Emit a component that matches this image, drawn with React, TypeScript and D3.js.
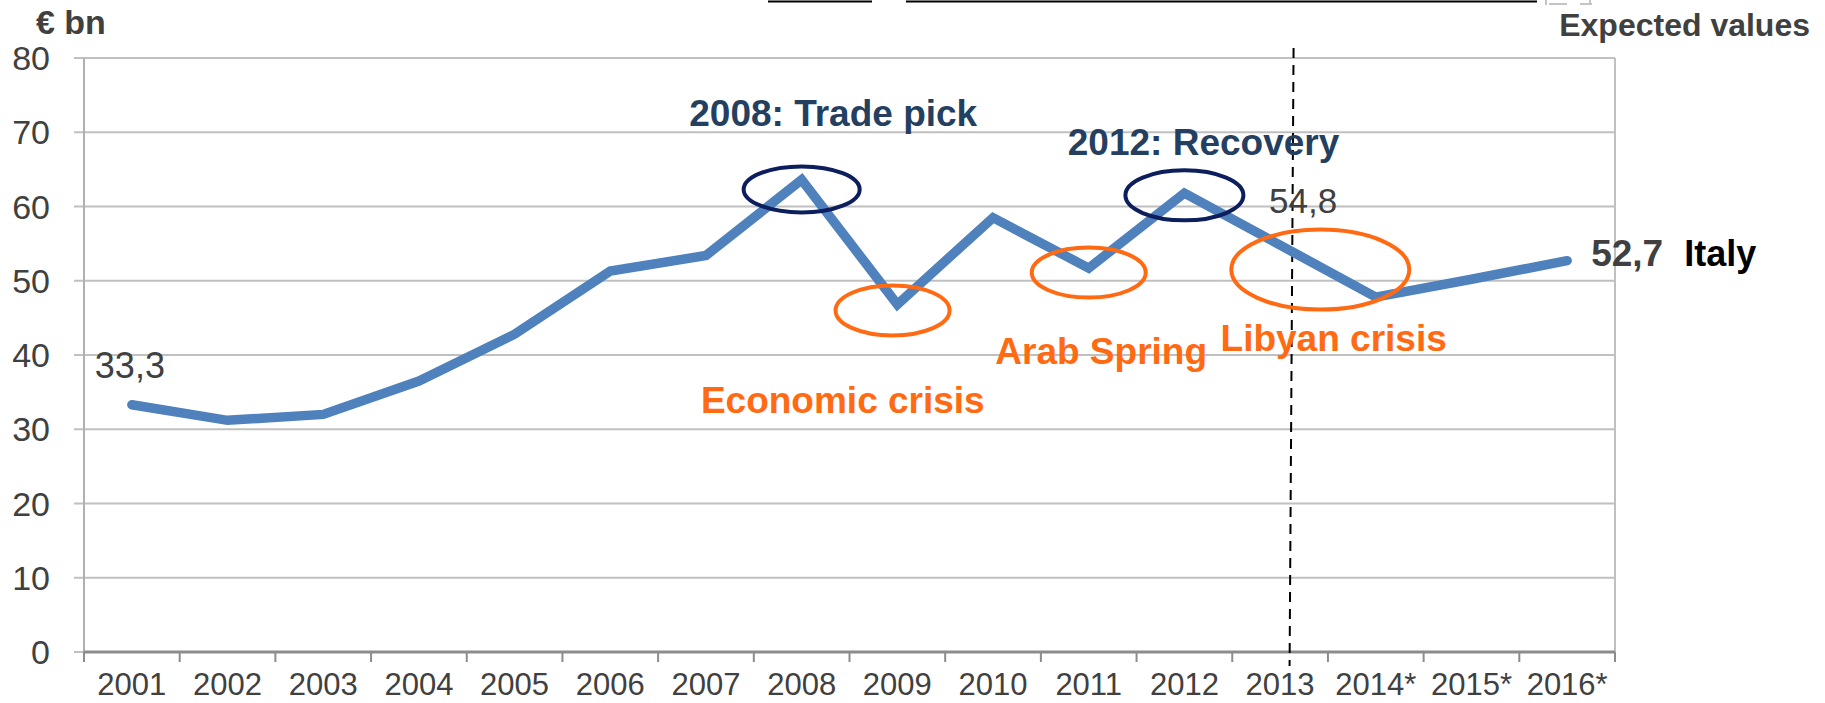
import * as d3 from "d3";

const years = ["2001", "2002", "2003", "2004", "2005", "2006", "2007", "2008", "2009", "2010", "2011", "2012", "2013", "2014*", "2015*", "2016*"];
const italy = [33.3, 31.2, 32.0, 36.5, 42.8, 51.3, 53.4, 63.6, 46.8, 58.5, 51.7, 61.8, 54.8, 47.8, 50.2, 52.7];
const yTicks = [0, 10, 20, 30, 40, 50, 60, 70, 80];

// circled events, centre given as year + value
const navyRings = [
  { year: "2008", value: 62.3, rx: 58, ry: 23 },
  { year: "2012", value: 61.5, rx: 59, ry: 25 },
];
const orangeRings = [
  { year: "2009", value: 46.0, rx: 57, ry: 25, dx: -0.05 },
  { year: "2011", value: 51.1, rx: 57, ry: 25, dx: 0 },
  { year: "2013", value: 51.5, rx: 89, ry: 40, dx: 0.42 },
];
// dx in band widths
const eventLabels = [
  { text: "2008: Trade pick", year: "2008", value: 70.8, dx: 0.33, color: "#243f60" },
  { text: "2012: Recovery", year: "2012", value: 66.9, dx: 0.2, color: "#243f60" },
  { text: "Economic crisis", year: "2009", value: 32.2, dx: -0.57, color: "#ff6a13" },
  { text: "Arab Spring", year: "2011", value: 38.8, dx: 0.13, color: "#ff6a13" },
  { text: "Libyan crisis", year: "2014*", value: 40.5, dx: -0.44, color: "#ff6a13" },
];

const W = 1825,
  H = 703,
  left = 84,
  right = 1615,
  top = 58,
  bottom = 652;

const FONT = "'Liberation Sans', Arial, sans-serif";

export default function App() {
  const x = d3.scaleBand(years, [left, right]);
  const y = d3.scaleLinear([0, 80], [bottom, top]);
  const cx = (yr: string) => (x(yr) ?? 0) + x.bandwidth() / 2;
  const line = d3.line<number>((d, i) => cx(years[i]), (d) => y(d));
  const dashX = cx("2013") + x.bandwidth() * 0.12;
  const last = italy.length - 1;

  return (
    <div style={{ position: "absolute", left: 0, top: 0 }}>
      <svg width={W} height={H} style={{ display: "block" }} fontFamily={FONT}>
        <rect width={W} height={H} fill="white" />

        {/* cropped underline remnants at the very top */}
        <line x1={768} x2={872} y1={1.5} y2={1.5} stroke="#000" strokeWidth={2} />
        <line x1={906} x2={1537} y1={1.5} y2={1.5} stroke="#000" strokeWidth={2} />
        <path d="M1546,0 v5 M1549,4 h18 M1580,4 h12 M1590,0 v5" stroke="#c4c4c4" strokeWidth={2} fill="none" />

        {/* gridlines */}
        {yTicks.map((t) => (
          <line key={t} x1={left - 10} x2={right} y1={y(t)} y2={y(t)} stroke="#c0c0c0" strokeWidth={2} />
        ))}
        <line x1={left} x2={left} y1={top} y2={bottom} stroke="#b0b0b0" strokeWidth={2} />
        <line x1={right} x2={right} y1={top} y2={bottom} stroke="#c0c0c0" strokeWidth={2} />
        <line x1={left} x2={right} y1={bottom} y2={bottom} stroke="#8c8c8c" strokeWidth={3} />
        {years.map((yr) => (
          <line key={yr} x1={x(yr)} x2={x(yr)} y1={bottom} y2={bottom + 10} stroke="#8c8c8c" strokeWidth={2} />
        ))}
        <line x1={right} x2={right} y1={bottom} y2={bottom + 10} stroke="#8c8c8c" strokeWidth={2} />

        {/* y labels */}
        {yTicks.map((t) => (
          <text key={t} x={50} y={y(t)} dy="0.36em" textAnchor="end" fontSize={34} fill="#404040">
            {t}
          </text>
        ))}
        {/* x labels */}
        {years.map((yr) => (
          <text key={yr} x={cx(yr)} y={695} textAnchor="middle" fontSize={31} fill="#404040">
            {yr}
          </text>
        ))}

        <text x={36} y={34} fontSize={34} fontWeight="bold" fill="#404040">
          € bn
        </text>
        <text x={1810} y={36} fontSize={32} fontWeight="bold" fill="#404040" textAnchor="end">
          Expected values
        </text>

        {/* forecast divider */}
        <line x1={dashX + 2} x2={dashX - 2} y1={48} y2={666} stroke="#000" strokeWidth={2} strokeDasharray="10 7" />

        {/* series */}
        <path d={line(italy) ?? ""} fill="none" stroke="#4f81bd" strokeWidth={9.5} strokeLinejoin="miter" strokeLinecap="round" />

        {/* rings */}
        {navyRings.map((r) => (
          <ellipse key={r.year} cx={cx(r.year)} cy={y(r.value)} rx={r.rx} ry={r.ry} fill="none" stroke="#0c1f5c" strokeWidth={4} />
        ))}
        {orangeRings.map((r) => (
          <ellipse
            key={r.year}
            cx={cx(r.year) + r.dx * x.bandwidth()}
            cy={y(r.value)}
            rx={r.rx}
            ry={r.ry}
            fill="none"
            stroke="#ff6a13"
            strokeWidth={4}
          />
        ))}

        {/* value labels */}
        <text x={cx(years[0]) - 37} y={y(italy[0]) - 27} fontSize={36} fill="#404040">
          33,3
        </text>
        <text x={cx("2013") - 11} y={y(italy[12]) - 32} fontSize={35} fill="#404040">
          54,8
        </text>
        <text x={cx(years[last]) + 24} y={y(italy[last]) + 5} fontSize={37} fontWeight="bold" fill="#404040">
          52,7
        </text>
        <text x={cx(years[last]) + 117} y={y(italy[last]) + 5} fontSize={36} fontWeight="bold" fill="#000">
          Italy
        </text>

        {/* event captions */}
        {eventLabels.map((l) => (
          <text
            key={l.text}
            x={cx(l.year) + l.dx * x.bandwidth()}
            y={y(l.value)}
            textAnchor="middle"
            fontSize={37}
            fontWeight="bold"
            fill={l.color}
          >
            {l.text}
          </text>
        ))}
      </svg>
    </div>
  );
}
